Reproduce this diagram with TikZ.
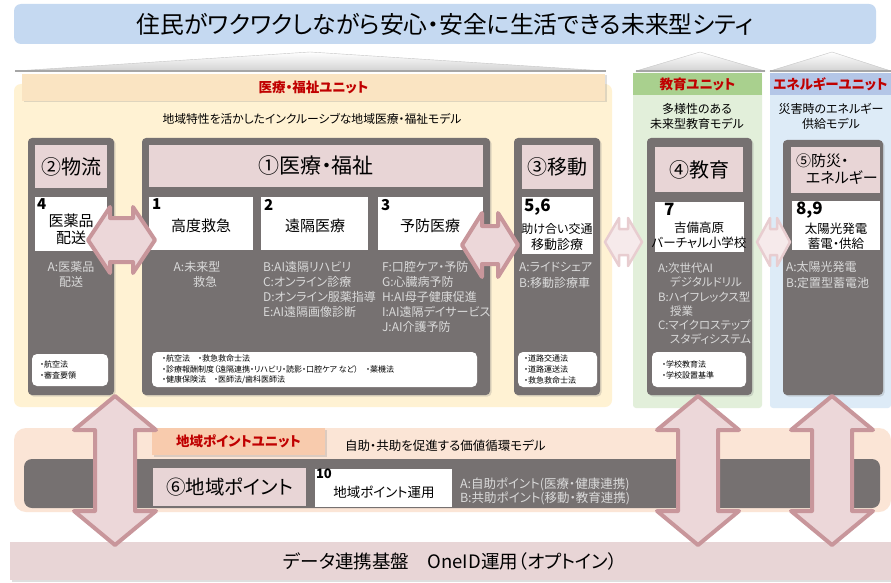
\documentclass[tikz,border=0pt]{standalone}
\usepackage{fontspec}
\setmainfont[RawFeature=+palt]{Noto Sans CJK JP}
\usetikzlibrary{shadows,fit}
\definecolor{titleblue}{HTML}{C5D9F1}
\definecolor{unityellow}{HTML}{FFF2D3}
\definecolor{unithead}{HTML}{FAE4C2}
\definecolor{unitgreen}{HTML}{E2EFDA}
\definecolor{headgreen}{HTML}{A9D08E}
\definecolor{unitblue}{HTML}{DDEBF7}
\definecolor{headblue}{HTML}{B4C6E7}
\definecolor{unitpeach}{HTML}{FBE5D6}
\definecolor{headsalmon}{HTML}{F8CBAD}
\definecolor{boxgrey}{HTML}{767171}
\definecolor{headpink}{HTML}{E8D5D6}
\definecolor{lighttxt}{HTML}{DADADA}
\definecolor{redtxt}{HTML}{C00000}
\definecolor{arrowdark}{HTML}{C8969B}
\definecolor{arrowfill}{HTML}{ECD7D9}
\definecolor{arrowpale}{HTML}{E8CDD0}
\definecolor{arrowpalefill}{HTML}{F6EAEB}
\definecolor{roofgrey}{HTML}{A6A6A6}
\newcommand{\fsz}[2]{\fontsize{#1pt}{#2pt}\selectfont}
\newcommand{\bx}[6]{\node[#1, fit={(#3,#4)(#5,#6)}] (#2) {};}
% horizontal block double arrow: style, name, x1, x2, yc, half head, half shaft, head length
\newcommand{\harr}[8]{%
  \coordinate (#2) at ({(#3+#4)/2},#5);
  \draw[#1] (#3,#5) -- ({#3+#8},{#5-#6}) -- ({#3+#8},{#5-#7}) -- ({#4-#8},{#5-#7})
    -- ({#4-#8},{#5-#6}) -- (#4,#5) -- ({#4-#8},{#5+#6}) -- ({#4-#8},{#5+#7})
    -- ({#3+#8},{#5+#7}) -- ({#3+#8},{#5+#6}) -- cycle;}
% vertical block double arrow: style, name, xc, y1, y2, half head, half shaft, head length
\newcommand{\varr}[8]{%
  \coordinate (#2) at (#3,{(#4+#5)/2});
  \draw[#1] (#3,#4) -- ({#3+#6},{#4+#8}) -- ({#3+#7},{#4+#8}) -- ({#3+#7},{#5-#8})
    -- ({#3+#6},{#5-#8}) -- (#3,#5) -- ({#3-#6},{#5-#8}) -- ({#3-#7},{#5-#8})
    -- ({#3-#7},{#4+#8}) -- ({#3-#6},{#4+#8}) -- cycle;}
\begin{document}
\begin{tikzpicture}[x=1pt,y=-1pt,
  every node/.style={inner sep=0pt, outer sep=0pt},
  softshadow/.style={drop shadow={opacity=0.25, shadow xshift=1.5pt, shadow yshift=-1.5pt}},
  region/.style={rounded corners=7pt, inner sep=0pt},
  greybox/.style={fill=boxgrey, rounded corners=4pt, inner sep=0pt, softshadow},
  pinkhead/.style={fill=headpink, inner sep=0pt},
  whitebox/.style={fill=white, inner sep=0pt},
  lawbox/.style={fill=white, rounded corners=5pt, inner sep=0pt},
  headtxt/.style={font=\fsz{20}{22}},
  boxtxt/.style={font=\fsz{15}{17}},
  numtxt/.style={font=\fsz{15}{17}\bfseries, anchor=north west},
  bignum/.style={font=\fsz{17}{19}\bfseries, anchor=north west},
  lt/.style={text=lighttxt, font=\fsz{12}{14}},
  ltw/.style={lt, anchor=west},
  lawtxt/.style={font=\fsz{8}{9.5}, anchor=west},
  unittxt/.style={text=redtxt, font=\fsz{13.5}{15}\bfseries},
  darr/.style={draw=arrowdark, fill=arrowfill, line width=4pt, line join=round},
  parr/.style={draw=arrowpale, fill=arrowpalefill, line width=2.5pt, line join=round}
]
\useasboundingbox (0,0) rectangle (891,583);
\fill[white] (0,0) rectangle (891,583);

% title
\bx{fill=titleblue, rounded corners=7pt}{title}{14}{4}{876}{44}
\node[font=\fsz{23.8}{25}] at (title.center) {住民がワクワクしながら安心・安全に生活できる未来型シティ};

% roofs
\shade[top color=white, bottom color=gray!35, draw=gray!45, line width=0.4pt] (15,71) -- (310,52) -- (606,71) -- cycle;
\draw[roofgrey, line width=1.5pt] (15,71) -- (606,71);
\shade[top color=white, bottom color=gray!35, draw=gray!45, line width=0.4pt] (636,71) -- (700,52) -- (765,71) -- cycle;
\draw[roofgrey, line width=1.5pt] (636,71) -- (765,71);
\shade[top color=white, bottom color=gray!35, draw=gray!45, line width=0.4pt] (770,71) -- (832,52) -- (891,71) -- cycle;
\draw[roofgrey, line width=1.5pt] (770,71) -- (891,71);

% unit regions
\bx{region, fill=unityellow}{ymed}{14}{84}{612}{407}
\bx{fill=unithead, softshadow}{hmed}{22}{74}{605}{101}
\node[unittxt] at (hmed.center) {医療・福祉ユニット};
\node[font=\fsz{11.8}{13}] (submed) at (312,119) {地域特性を活かしたインクルーシブな地域医療・福祉モデル};

\bx{fill=unitgreen, rounded corners=3pt}{gedu}{633}{73}{762}{408}
\bx{fill=headgreen}{hedu}{633}{73}{762}{95}
\node[unittxt] at (hedu.center) {教育ユニット};
\node[font=\fsz{12}{14}] (subedu1) at (697,109) {多様性のある};
\node[font=\fsz{12}{14}] (subedu2) at (697,124) {未来型教育モデル};

\bx{fill=unitblue, rounded corners=3pt}{genr}{770}{73}{891}{408}
\bx{fill=headblue}{henr}{770}{73}{891}{95}
\node[unittxt] at (henr.center) {エネルギーユニット};
\node[font=\fsz{12}{14}] (subenr1) at (831,109) {災害時のエネルギー};
\node[font=\fsz{12}{14}] (subenr2) at (831,124) {供給モデル};

% column 2: logistics
\bx{greybox}{g2}{28}{138}{114}{395}
\bx{pinkhead}{h2}{35}{145}{107}{188}
\node[headtxt] at (h2.center) {②物流};
\bx{whitebox}{w4}{35}{197}{107}{251}
\node[numtxt] at (37,199) {4};
\node[boxtxt] at (71,221) {医薬品};
\node[boxtxt] at (71,238) {配送};
\node[lt] at (71,267) {A:医薬品};
\node[lt] at (71,282) {配送};
\bx{lawbox}{l2}{32}{354}{108}{386}
\node[lawtxt] at (40,364) {・航空法};
\node[lawtxt] at (40,375) {・審査要領};

% column 1: medical
\bx{greybox}{g1}{142}{138}{490}{395}
\bx{pinkhead}{h1}{149}{145}{483}{187}
\node[font=\fsz{21}{23}] at (h1.center) {①医療・福祉};
\bx{whitebox}{w1}{149}{197}{253}{250}
\bx{whitebox}{w2}{261}{197}{368}{250}
\bx{whitebox}{w3}{378}{197}{483}{250}
\node[numtxt] at (152,199) {1};
\node[numtxt] at (264,199) {2};
\node[numtxt] at (381,199) {3};
\node[boxtxt] at (201,226) {高度救急};
\node[boxtxt] at (315,226) {遠隔医療};
\node[boxtxt] at (430,226) {予防医療};
\node[lt] at (197,267) {A:未来型};
\node[lt] at (205,282) {救急};
\node[ltw] at (263,267) {B:AI遠隔リハビリ};
\node[ltw] at (263,282) {C:オンライン診療};
\node[ltw] at (263,297) {D:オンライン服薬指導};
\node[ltw] at (263,312) {E:AI遠隔画像診断};
\node[ltw] at (382,267) {F:口腔ケア・予防};
\node[ltw] at (382,282) {G:心臓病予防};
\node[ltw] at (382,297) {H:AI母子健康促進};
\node[ltw] at (382,312) {I:AI遠隔デイサービス};
\node[ltw] at (382,327) {J:AI介護予防};
\bx{lawbox}{l1}{152}{352}{477}{387}
\node[lawtxt] at (162,358) {・航空法\quad ・救急救命士法};
\node[lawtxt] at (162,369) {・診療報酬制度（遠隔連携・リハビリ・読影・口腔ケア など）\quad ・薬機法};
\node[lawtxt] at (162,380) {・健康保険法\quad ・医師法/歯科医師法};

% column 3: mobility
\bx{greybox}{g3}{514}{138}{600}{395}
\bx{pinkhead}{h3}{522}{145}{593}{189}
\node[headtxt] at (h3.center) {③移動};
\bx{whitebox}{w56}{522}{197}{593}{254}
\node[bignum] at (524,199) {5,6};
\node[font=\fsz{12}{14}] at (557,229) {助け合い交通};
\node[font=\fsz{13}{15}] at (557,245) {移動診療};
\node[ltw] at (519,267) {A:ライドシェア};
\node[ltw] at (519,283) {B:移動診療車};
\bx{lawbox}{l3}{518}{352}{597}{387}
\node[lawtxt] at (524,358) {・道路交通法};
\node[lawtxt] at (524,369) {・道路運送法};
\node[lawtxt] at (524,380) {・救急救命士法};

% column 4: education
\bx{greybox}{g4}{647}{138}{752}{395}
\bx{pinkhead}{h4}{655}{147}{743}{192}
\node[headtxt] at (h4.center) {④教育};
\bx{whitebox}{w7}{655}{202}{744}{252}
\node[bignum] at (664,203) {7};
\node[font=\fsz{12.5}{14}] at (699,228) {吉備高原};
\node[font=\fsz{12.5}{14}] at (699,243) {バーチャル小学校};
\node[ltw, font=\fsz{11.5}{13}] at (658,268) {A:次世代AI};
\node[ltw, font=\fsz{11.5}{13}] at (670,282) {デジタルドリル};
\node[ltw, font=\fsz{11.5}{13}] at (658,297) {B:ハイフレックス型};
\node[ltw, font=\fsz{11.5}{13}] at (670,311) {授業};
\node[ltw, font=\fsz{11.5}{13}] at (658,325) {C:マイクロステップ};
\node[ltw, font=\fsz{11.5}{13}] at (670,339) {スタディシステム};
\bx{lawbox}{l4}{652}{352}{746}{387}
\node[lawtxt] at (662,364) {・学校教育法};
\node[lawtxt] at (662,375) {・学校設置基準};

% column 5: energy
\bx{greybox}{g5}{783}{140}{883}{395}
\bx{pinkhead}{h5}{791}{147}{880}{193}
\node[font=\fsz{15}{17}, anchor=west] at (796,161) {⑤防災・};
\node[font=\fsz{15}{17}, anchor=west] at (806,178) {エネルギー};
\bx{whitebox}{w89}{792}{201}{880}{250}
\node[bignum] at (796,202) {8,9};
\node[font=\fsz{12.5}{14}] at (836,229) {太陽光発電};
\node[font=\fsz{12.5}{14}] at (836,244) {蓄電・供給};
\node[ltw] at (786,267) {A:太陽光発電};
\node[ltw] at (786,283) {B:定置型蓄電池};

% point unit
\bx{fill=unitpeach, rounded corners=12pt}{gpt}{14}{428}{891}{512}
\bx{fill=boxgrey, rounded corners=8pt}{bandpt}{24}{459}{880}{508}
\bx{fill=headsalmon, softshadow}{hpt}{152}{428}{325}{455}
\node[text=redtxt, font=\fsz{13.5}{15}\bfseries] at (hpt.center) {地域ポイントユニット};
\node[font=\fsz{12.5}{14}, anchor=west] (subpt) at (345,446) {自助・共助を促進する価値循環モデル};
\bx{pinkhead}{h6}{153}{468}{306}{506}
\node[font=\fsz{19.5}{21}] at (h6.center) {⑥地域ポイント};
\bx{whitebox}{w10}{315}{469}{452}{507}
\node[font=\fsz{13}{15}\bfseries, anchor=north west] at (316,469) {10};
\node[font=\fsz{13.5}{15}] at (384,492) {地域ポイント運用};
\node[lt, font=\fsz{12.5}{14}, anchor=west] at (460,484) {A:自助ポイント(医療・健康連携)};
\node[lt, font=\fsz{12.5}{14}, anchor=west] at (460,498) {B:共助ポイント(移動・教育連携)};

% data platform
\bx{fill=headpink, softshadow}{data}{10}{542}{891}{580}
\node[font=\fsz{18.5}{20}] at (data.center) {データ連携基盤\quad OneID運用（オプトイン）};

% horizontal arrows between columns
\harr{darr}{a21}{88}{155}{240}{33}{22}{22}
\harr{darr}{a13}{462}{518}{245}{32}{19}{20}
\harr{parr}{a34}{605}{642}{242}{24}{13}{14}
\harr{parr}{a45}{757}{790}{242}{24}{13}{13}

% vertical arrows to the data platform
\varr{darr}{v1}{115}{396}{545}{41}{20}{34}
\varr{darr}{v2}{698}{396}{545}{41}{20}{34}
\varr{darr}{v3}{832}{396}{545}{41}{20}{34}
\end{tikzpicture}
\end{document}
